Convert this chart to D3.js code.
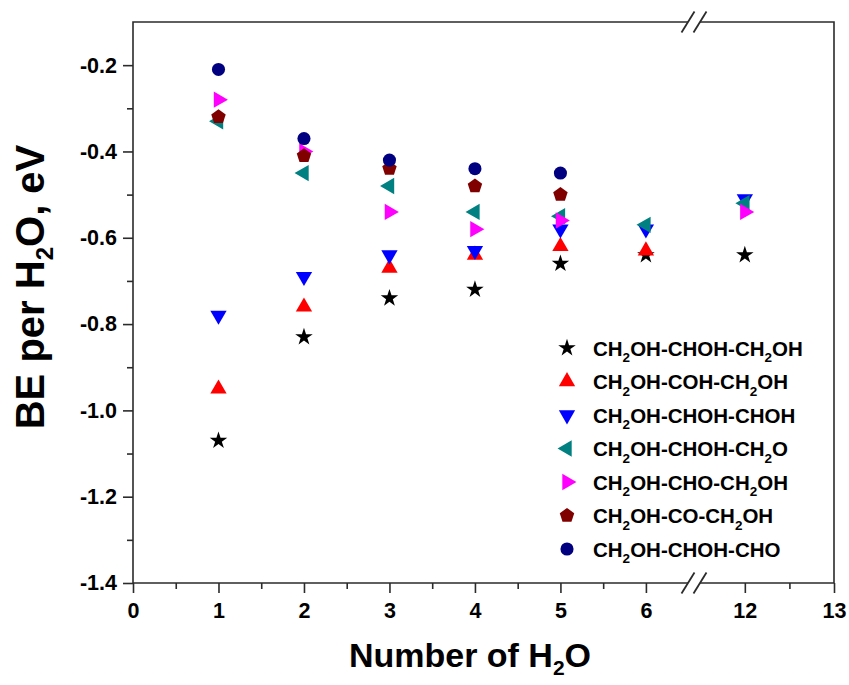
<!DOCTYPE html>
<html>
<head>
<meta charset="utf-8">
<script src="https://cdn.jsdelivr.net/npm/d3@7"></script>
<style>
    body { margin: 0; background: #fff; }
    text { font-family: "Liberation Sans", Arial, sans-serif; font-weight: bold; fill: #000; }
</style>
</head>
<body>
<div id="chart"></div>
<script>
// number of water molecules (x) and the BE per H2O for each species (eV)
const waters = [1, 2, 3, 4, 5, 6, 12];
const xTicks = [0, 1, 2, 3, 4, 5, 6, 12, 13];
const xMinorTicks = [0.5, 1.5, 2.5, 3.5, 4.5, 5.5, 12.5];
const yTicks = [-0.2, -0.4, -0.6, -0.8, -1.0, -1.2, -1.4];
const yMinorTicks = [-0.3, -0.5, -0.7, -0.9, -1.1, -1.3];

const seriesLabels = [
    "CH_2OH-CHOH-CH_2OH",
    "CH_2OH-COH-CH_2OH",
    "CH_2OH-CHOH-CHOH",
    "CH_2OH-CHOH-CH_2O",
    "CH_2OH-CHO-CH_2OH",
    "CH_2OH-CO-CH_2OH",
    "CH_2OH-CHOH-CHO"
];
const glycerol         = [-1.07, -0.83, -0.74, -0.72, -0.66, -0.64, -0.64];
const cohRadical       = [-0.95, -0.76, -0.67, -0.64, -0.62, -0.63, null];
const chohRadical      = [-0.78, -0.69, -0.64, -0.63, -0.58, -0.58, -0.51];
const ch2oRadical      = [-0.33, -0.45, -0.48, -0.54, -0.55, -0.57, -0.52];
const choRadical       = [-0.28, -0.40, -0.54, -0.58, -0.56, null, -0.54];
const dihydroxyacetone = [-0.32, -0.41, -0.44, -0.48, -0.50, null, null];
const glyceraldehyde   = [-0.21, -0.37, -0.42, -0.44, -0.45, null, null];

document.addEventListener("DOMContentLoaded", function () {
    const width = 849, height = 685;
    const left = 133, right = 834, top = 22, bottom = 583;
    const breakX = 694; // axis break between 6 and 12
    const axisColor = "#2b2b2b";

    const series = [
        { values: glycerol, color: "#000000", shape: "star" },
        { values: cohRadical, color: "#ff0000", shape: "up" },
        { values: chohRadical, color: "#0000ff", shape: "down" },
        { values: ch2oRadical, color: "#008080", shape: "left" },
        { values: choRadical, color: "#ff00ff", shape: "right" },
        { values: dihydroxyacetone, color: "#800000", shape: "pentagon" },
        { values: glyceraldehyde, color: "#000080", shape: "circle" }
    ];

    const svg = d3.select("#chart").append("svg")
        .attr("width", width)
        .attr("height", height);

    svg.append("rect").attr("width", width).attr("height", height).attr("fill", "#fff");

    // broken x scale: 0..6.56 then 11.43..13
    const x = d3.scaleLinear()
        .domain([0, 6.5625, 11.43, 13])
        .range([left, breakX, breakX, right]);
    const y = d3.scaleLinear()
        .domain([-1.4, -0.1])
        .range([bottom, top]);

    function shapePath(shape) {
        if (shape === "star") return d3.symbol(d3.symbolStar, 95)();
        if (shape === "circle") return d3.symbol(d3.symbolCircle, 135)();
        if (shape === "pentagon") {
            const r = 7.6;
            const pts = d3.range(5).map(k => {
                const a = -Math.PI / 2 + k * 2 * Math.PI / 5;
                return [r * Math.cos(a), r * Math.sin(a)];
            });
            return "M" + pts.map(p => p.join(",")).join("L") + "Z";
        }
        return d3.symbol(d3.symbolTriangle, 115)();
    }
    function shapeRotate(shape) {
        return { down: 180, left: -90, right: 90 }[shape] || 0;
    }

    // axes
    const xAxis = svg.append("g")
        .attr("transform", `translate(0,${bottom})`)
        .call(d3.axisBottom(x).tickValues(xTicks).tickFormat(d3.format("d")).tickSize(10).tickPadding(10));
    const xMinor = svg.append("g")
        .attr("transform", `translate(0,${bottom})`)
        .call(d3.axisBottom(x).tickValues(xMinorTicks).tickFormat("").tickSize(6));
    const yAxis = svg.append("g")
        .attr("transform", `translate(${left},0)`)
        .call(d3.axisLeft(y).tickValues(yTicks).tickFormat(d => d.toFixed(1)).tickSize(10).tickPadding(6));
    const yMinor = svg.append("g")
        .attr("transform", `translate(${left},0)`)
        .call(d3.axisLeft(y).tickValues(yMinorTicks).tickFormat("").tickSize(6));

    [xAxis, xMinor, yAxis, yMinor].forEach(g => {
        g.select(".domain").remove();
        g.selectAll("line").attr("stroke", axisColor).attr("stroke-width", 1.6);
        g.selectAll("text").attr("font-size", 21.5).attr("fill", "#000")
            .attr("font-family", "Liberation Sans, Arial, sans-serif").attr("font-weight", "bold");
    });

    // frame with the break on top and bottom
    const gap = 6;
    const frame = svg.append("g").attr("fill", "none").attr("stroke", axisColor).attr("stroke-width", 1.6);
    frame.append("path").attr("d", `M${breakX - gap},${bottom}H${left}V${top}H${breakX - gap}`);
    frame.append("path").attr("d", `M${breakX + gap},${bottom}H${right}V${top}H${breakX + gap}`);
    [top, bottom].forEach(yy => {
        [-gap, gap].forEach(dx => {
            frame.append("line")
                .attr("x1", breakX + dx - 6.5).attr("y1", yy + 10.5)
                .attr("x2", breakX + dx + 6.5).attr("y2", yy - 10.5)
                .attr("stroke-width", 1.8);
        });
    });

    // data points
    series.forEach(s => {
        const pts = waters.map((w, i) => ({ w: w, v: s.values[i] })).filter(d => d.v !== null);
        svg.append("g").selectAll("path")
            .data(pts)
            .enter().append("path")
            .attr("d", shapePath(s.shape))
            .attr("transform", d => `translate(${x(d.w)},${y(d.v)}) rotate(${shapeRotate(s.shape)})`)
            .attr("fill", s.color);
    });

    // writes "CH_2OH" style text with small subscripts
    function writeFormula(textSel, str, subSize, shift) {
        const parts = str.split(/_(\d)/);
        parts.forEach((p, i) => {
            if (p === "") return;
            const sub = i % 2 === 1;
            const t = textSel.append("tspan").text(p);
            if (sub) {
                t.attr("font-size", subSize).attr("dy", shift);
            } else if (i > 0) {
                t.attr("dy", -shift);
            }
        });
    }

    // legend
    const legend = svg.append("g").attr("transform", "translate(567,348)");
    seriesLabels.forEach((label, i) => {
        const row = legend.append("g").attr("transform", `translate(0,${i * 33.5})`);
        row.append("path")
            .attr("d", shapePath(series[i].shape))
            .attr("transform", `rotate(${shapeRotate(series[i].shape)})`)
            .attr("fill", series[i].color);
        const t = row.append("text").attr("x", 26).attr("y", 7.5).attr("font-size", 20.5);
        writeFormula(t, label, 13.5, 6.5);
    });

    // axis titles
    const xTitle = svg.append("text")
        .attr("x", 470).attr("y", 667)
        .attr("text-anchor", "middle")
        .attr("font-size", 34);
    writeFormula(xTitle, "Number of H_2O", 21, 8);

    const yTitle = svg.append("text")
        .attr("transform", "translate(44,287) rotate(-90)")
        .attr("text-anchor", "middle")
        .attr("font-size", 40);
    writeFormula(yTitle, "BE per H_2O, eV", 24, 9);
});
</script>
</body>
</html>
